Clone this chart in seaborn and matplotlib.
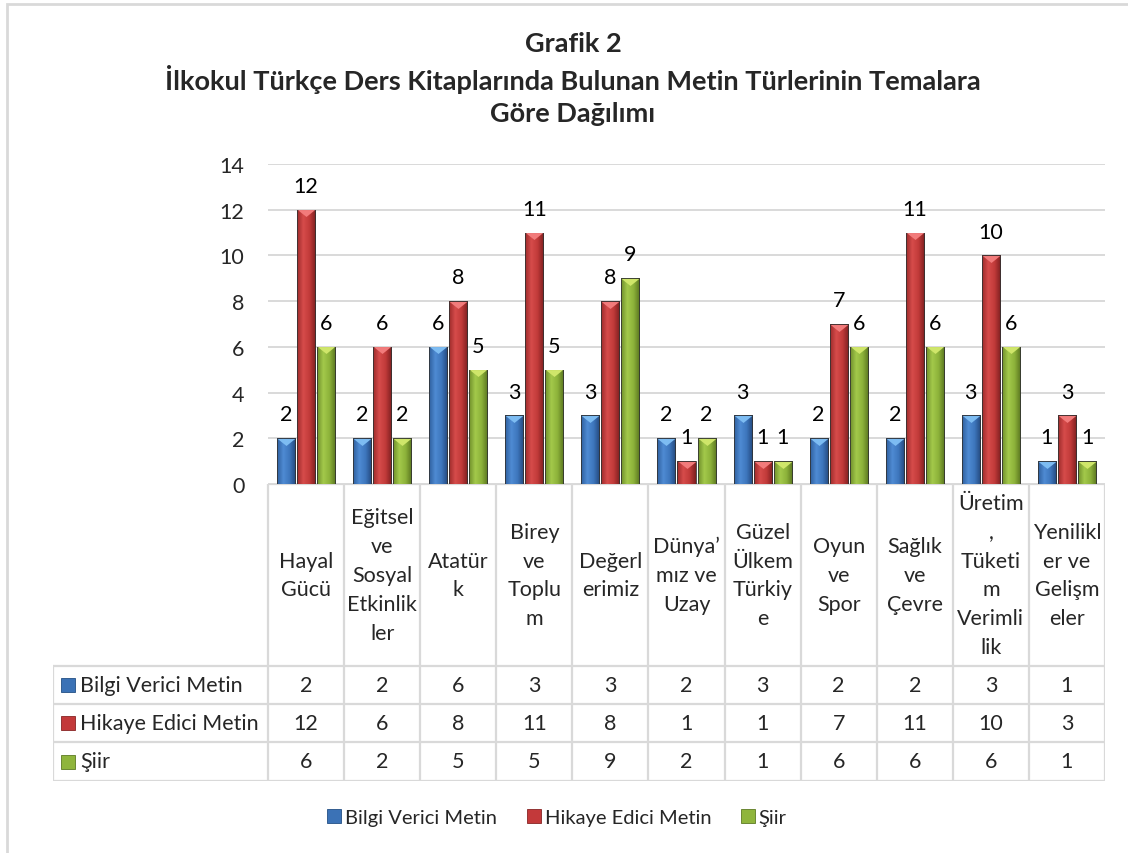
import numpy as np
import pandas as pd
import matplotlib
matplotlib.use('Agg')
import matplotlib.pyplot as plt
import matplotlib.transforms as mtransforms
from matplotlib.colors import LinearSegmentedColormap
from matplotlib.lines import Line2D
from matplotlib.patches import Rectangle
import seaborn as sns

# veriler
temalar = ['Hayal Gücü', 'Eğitsel ve Sosyal Etkinlikler', 'Atatürk', 'Birey ve Toplum',
           'Değerlerimiz', 'Dünya’mız ve Uzay', 'Güzel Ülkem Türkiye', 'Oyun ve Spor',
           'Sağlık ve Çevre', 'Üretim, Tüketim Verimlilik', 'Yenilikler ve Gelişmeler']
basliklar = ['Hayal\nGücü', 'Eğitsel\nve\nSosyal\nEtkinlik\nler', 'Atatür\nk', 'Birey\nve\nToplu\nm',
             'Değerl\nerimiz', 'Dünya’\nmız ve\nUzay', 'Güzel\nÜlkem\nTürkiy\ne', 'Oyun\nve\nSpor',
             'Sağlık\nve\nÇevre', 'Üretim\n,\nTüketi\nm\nVerimli\nlik', 'Yenilikl\ner ve\nGelişm\neler']
seriler = ['Bilgi Verici Metin', 'Hikaye Edici Metin', 'Şiir']
bilgi = [2, 2, 6, 3, 3, 2, 3, 2, 2, 3, 1]
hikaye = [12, 6, 8, 11, 8, 1, 1, 7, 11, 10, 3]
siir = [6, 2, 5, 5, 9, 2, 1, 6, 6, 6, 1]

renkler = ['#3b72b6', '#c3393a', '#8fb53c']
koyu = ['#234f85', '#872424', '#5c7a22']
acik = ['#7dbcf2', '#f27b7b', '#cfe66a']
# bar golgelendirmesi (soldan saga)
gradyan = [['#2e5f9e', '#4f8bd3', '#3d76bd', '#24497d'],
           ['#9e2b2b', '#d64c4b', '#c13a39', '#7d2020'],
           ['#6f8f2b', '#a3c94b', '#8db23a', '#5a7520']]

rows = []
for s, vals in zip(seriler, [bilgi, hikaye, siir]):
    for t, v in zip(temalar, vals):
        rows.append({'tema': t, 'seri': s, 'deger': v})
df = pd.DataFrame(rows)

sns.set_theme(style='white')
plt.rcParams['font.family'] = ['Lato', 'DejaVu Sans']

W, H = 1128, 854
FS = 15.5
fig = plt.figure(figsize=(W / 100, H / 100), dpi=100)
ax = fig.add_axes([268 / W, 1 - 485 / H, 837 / W, 320 / H])

sns.barplot(data=df, x='tema', y='deger', hue='seri', order=temalar, hue_order=seriler,
            palette=renkler, width=0.79, gap=0.1, edgecolor='#333333', linewidth=0.6,
            legend=False, ax=ax, zorder=3)

# bar ustu ucgenler, golge ve etiketler
ucgen = [(-1, 0.4), (1, 0.4), (0, -0.4)]
ofs = mtransforms.offset_copy(ax.transData, fig=fig, y=-3.6, units='dots')
grad = np.linspace(0, 1, 64).reshape(1, -1)
for cont, lc, gr in zip(ax.containers, acik, gradyan):
    cmap = LinearSegmentedColormap.from_list('g', gr)
    ax.bar_label(cont, padding=10, fontsize=FS, color='black')
    for bar in cont:
        x, w, h = bar.get_x(), bar.get_width(), bar.get_height()
        im = ax.imshow(grad, cmap=cmap, extent=[x, x + w, 0, h], aspect='auto',
                       interpolation='bilinear', zorder=3.2)
        im.set_clip_path(bar)
        bar.set_facecolor('none')
        bar.set_zorder(3.5)
        ax.plot(x + w / 2, h, marker=ucgen, ms=12.5, color=lc, mec='none',
                transform=ofs, zorder=4)

ax.set_xlim(-0.5, 10.5)
ax.set_ylim(0, 14)
ax.set_yticks(range(0, 15, 2))
ax.set_xticks([])
ax.set_xlabel('')
ax.set_ylabel('')
ax.tick_params(axis='y', labelsize=FS, pad=17, length=0)
ax.yaxis.grid(True, color='#d9d9d9', lw=1.4, zorder=0)
for sp in ax.spines.values():
    sp.set_visible(False)

# veri tablosu
sol = 215 / 76.09
tax = fig.add_axes([53 / W, 1 - 782 / H, 1052 / W, 297 / H])
x0 = -0.5 - sol
tax.set_xlim(x0, 10.5)
tax.set_ylim(297, 0)
tax.axis('off')
gc = '#d9d9d9'
satir = [182, 220, 258, 297]
tax.plot([-0.5, 10.5], [0, 0], color=gc, lw=1.6)
for y in satir:
    tax.plot([x0, 10.5], [y, y], color=gc, lw=1.6)
for i in range(12):
    tax.plot([-0.5 + i, -0.5 + i], [0, 297], color=gc, lw=1.6)
tax.plot([x0, x0], [182, 297], color=gc, lw=1.6)

for i, b in enumerate(basliklar):
    tax.text(i, 91, b, ha='center', va='center', fontsize=FS, linespacing=1.55)

for k, (s, vals) in enumerate(zip(seriler, [bilgi, hikaye, siir])):
    yc = (satir[k] + satir[k + 1]) / 2
    tax.plot(x0 + 15 / 76.09, yc, marker='s', ms=10, color=renkler[k], mec=koyu[k], mew=0.6)
    tax.text(x0 + 27 / 76.09, yc, s, ha='left', va='center', fontsize=FS)
    for i, v in enumerate(vals):
        tax.text(i, yc, str(v), ha='center', va='center', fontsize=FS)

# baslik
fig.text(573 / W, 1 - 79 / H,
         'Grafik 2\nİlkokul Türkçe Ders Kitaplarında Bulunan Metin Türlerinin Temalara\nGöre Dağılımı',
         ha='center', va='center', fontsize=19.5, fontweight='bold', linespacing=1.36)

# lejant
handles = [Line2D([], [], marker='s', ls='none', ms=10, color=c, mec=e, mew=0.6)
           for c, e in zip(renkler, koyu)]
fig.legend(handles, seriler, loc='center', bbox_to_anchor=(557 / W, 1 - 818 / H), ncol=3,
           frameon=False, fontsize=14.5, handletextpad=0.2, columnspacing=1.45,
           handlelength=0.7)

# dis cerceve
fig.patches.append(Rectangle((7 / W, -0.1), 1.2, 1.1 - 5 / H, transform=fig.transFigure,
                             fill=False, edgecolor='#d9d9d9', lw=2))

fig.savefig('out.png', dpi=100)
